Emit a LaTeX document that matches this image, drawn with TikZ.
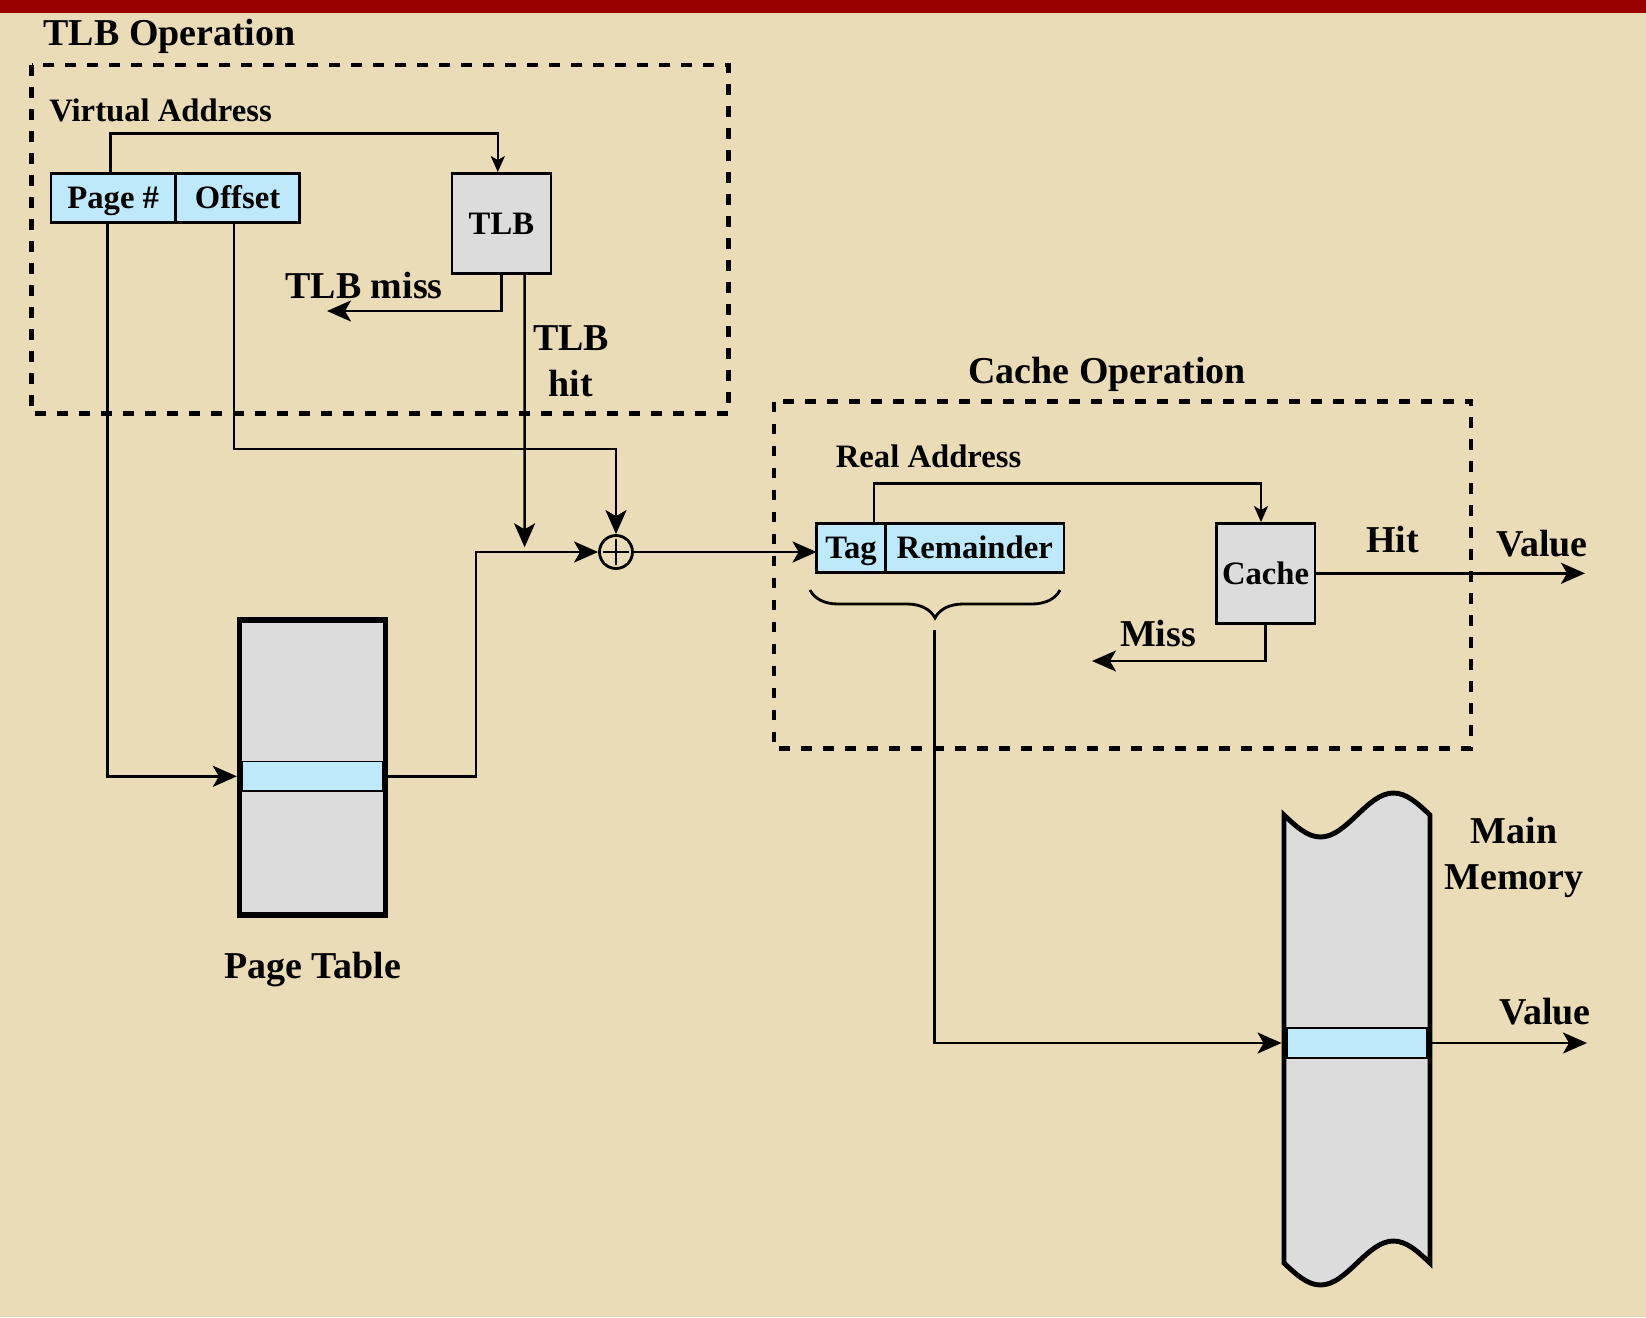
\documentclass[tikz,border=0pt]{standalone}
\usepackage{fontspec}
\setmainfont{Liberation Serif}
\usepackage{tikz}
\usetikzlibrary{arrows.meta,positioning,calc,decorations.pathreplacing}
\definecolor{parchment}{RGB}{235,220,184}
\definecolor{banner}{RGB}{153,0,0}
\definecolor{fieldblue}{RGB}{190,233,250}
\definecolor{unitgrey}{RGB}{220,220,220}

\begin{document}
\begin{tikzpicture}[x=0.1mm,y=-0.1mm,
field/.style={draw,line width=0.7pt,fill=fieldblue,minimum height=4.94mm,inner sep=0pt,outer sep=0pt,text height=2.6mm,text depth=0.42mm,font=\fontsize{9.3}{11}\selectfont\bfseries},
unitbox/.style={draw,line width=0.7pt,fill=unitgrey,minimum width=9.9mm,minimum height=10mm,inner sep=0pt,text height=2.6mm,text depth=0.42mm,font=\fontsize{9.3}{11}\selectfont\bfseries},
store/.style={draw,line width=1.5pt,fill=unitgrey,minimum width=14.6mm,minimum height=29.5mm,inner sep=0pt},
entry/.style={draw,line width=0.5pt,fill=fieldblue,minimum width=14.07mm,minimum height=2.94mm,inner sep=0pt},
opbox/.style={line width=1.4pt,dash pattern=on 1.07mm off 1.13mm},
arr/.style={-{Stealth[length=2.4mm,width=2.1mm,inset=0.6mm]},line width=0.7pt},
arrs/.style={-{Stealth[length=1.6mm,width=1.4mm,inset=0.4mm]},line width=0.7pt},
lbl/.style={font=\fontsize{10.8}{13.1}\selectfont\bfseries,inner sep=0pt,anchor=base},
slbl/.style={font=\fontsize{9.3}{11}\selectfont\bfseries,inner sep=0pt,anchor=base}
]
\path[use as bounding box,fill=parchment] (0,0) rectangle (1646,1317);
\fill[banner] (0,0) rectangle (1646,13);

\draw[opbox] (31.5,65) rectangle (728.5,413.3);
\draw[opbox] (774,401.5) rectangle (1471,748.3);
\node[lbl] (tlbtitle) at (169.6,45) {TLB Operation};
\node[lbl] (cachetitle) at (1107,383) {Cache Operation};

\node[slbl] (vaddr) at (160.5,121.7) {Virtual Address};
\node[field,minimum width=12.46mm] (pagenum) at (113.2,198) {Page \#};
\node[field,minimum width=12.41mm,right=0mm of pagenum] (offset) {Offset};
\node[unitbox] (tlb) at (501.4,223.3) {TLB};
\node[lbl] (misslbl) at (364,298.3) {TLB miss};
\node[lbl,align=center,anchor=center] (hitlbl) at (571,361) {TLB\\hit};

\node[store] (ptable) at (312.5,767.4) {};
\node[entry] (ptrow) at (312.5,776.3) {};
\node[lbl] (ptname) at ([yshift=-6.1mm]ptable.south) {Page Table};

\node[draw,circle,line width=0.8pt,minimum size=3.3mm,inner sep=0pt] (sum) at (616,552) {};
\draw[line width=0.8pt] ([yshift=1.3mm]sum.center) -- ([yshift=-1.3mm]sum.center)
  ([xshift=-1.3mm]sum.center) -- ([xshift=1.3mm]sum.center);

\node[slbl] (raddr) at (928.6,467.3) {Real Address};
\node[field,minimum width=6.89mm] (tag) at (851,548) {Tag};
\node[field,minimum width=17.86mm,right=0mm of tag] (rest) {Remainder};
\node[unitbox,minimum width=9.83mm] (cache) at (1265.6,573.3) {Cache};
\node[lbl] (hitcache) at (1392.7,552.7) {Hit};
\node[lbl] (value1) at (1542,556.7) {Value};
\node[lbl] (misscache) at (1158,646) {Miss};

\draw[line width=1.4pt,fill=unitgrey] (1284,815) sin (1320.5,837) cos (1357,815) sin (1393.5,793) cos (1430,815)
  -- (1430,1263) sin (1393.5,1241) cos (1357,1263) sin (1320.5,1285) cos (1284,1263) -- cycle;
\node[minimum width=14.6mm,minimum height=44.8mm,inner sep=0pt,outer sep=0.7pt] (mainmem) at (1357,1039) {};
\node[entry] (memrow) at (1357,1043) {};
\node[lbl,align=center,anchor=center] (memlbl) at (1514,857.8) {Main\\Memory};
\node[lbl] (value2) at (1545,1024.6) {Value};

\coordinate (missout) at (327,311);
\coordinate (hitin) at (524.6,547.3);
\coordinate (hitout) at (1585,573.3);
\coordinate (cmissout) at (1092,661);
\coordinate (bracel) at (810,590);
\coordinate (bracer) at (1060,590);
\coordinate (bracetip) at (934.5,630);
\coordinate (memout) at (1587,1043);

\draw[arrs] ([xshift=-0.27mm]pagenum.north) -- ++(0,-40) -| ([xshift=-0.36mm]tlb.north);
\draw[arr] (tlb.south) |- (missout);
\draw[arr] ([xshift=2.32mm]tlb.south) -- (hitin);
\draw[arr] ([xshift=-0.35mm]offset.south) -- ++(0,226.3) -| (sum.north);
\draw[arr] ([xshift=-0.56mm]pagenum.south) |- (ptable.west |- ptrow);
\draw[arr] (ptable.east |- ptrow) -- ++(88,0) |- (sum.west);
\draw[arr] (sum.east) -- (sum.east -| tag.west);
\draw[arrs] ([xshift=2.3mm]tag.north) -- ++(0,-40) -| ([xshift=-0.46mm]cache.north);
\draw[arr] (cache.east) -- (hitout);
\draw[arr] (cache.south) |- (cmissout);
\draw[line width=0.8pt,decorate,decoration={brace,mirror,amplitude=2.8mm}] (bracel) -- (bracer);
\draw[arr] (bracetip) |- (mainmem.west |- memrow);
\draw[arr] (mainmem.east |- memrow) -- (memout);
\end{tikzpicture}
\end{document}
